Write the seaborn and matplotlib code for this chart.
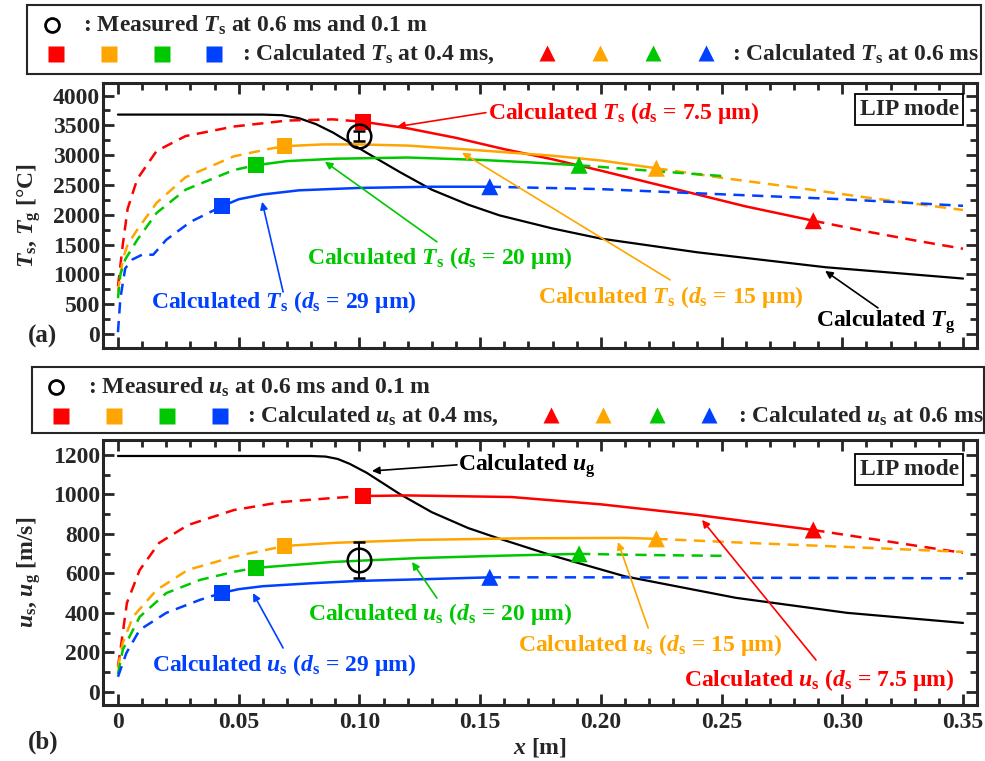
import seaborn as sns
import matplotlib.pyplot as plt
from matplotlib.ticker import MultipleLocator

# ---- data ----
# x positions [m] of the particles at 0.4 ms (squares) and 0.6 ms (triangles)
# order: d_s = 7.5, 15, 20, 29 um
sq_x = [0.1015, 0.069, 0.057, 0.043]
tri_x = [0.288, 0.223, 0.191, 0.154]

# panel (a): temperatures [degC]
ts_x_75 = [0, 0.002, 0.004, 0.008, 0.016, 0.028, 0.048, 0.07, 0.089, 0.1015, 0.12, 0.14,
           0.16, 0.18, 0.2, 0.22, 0.24, 0.26, 0.288, 0.31, 0.33, 0.35]
ts_75 = [800, 1500, 2100, 2600, 3070, 3320, 3480, 3580, 3600, 3560, 3450, 3290,
         3100, 2930, 2740, 2540, 2340, 2140, 1900, 1720, 1570, 1430]
ts_x_15 = [0, 0.002, 0.004, 0.008, 0.016, 0.028, 0.048, 0.062, 0.069, 0.085, 0.1, 0.12,
           0.15, 0.18, 0.2, 0.223, 0.25, 0.28, 0.31, 0.35]
ts_15 = [700, 1250, 1500, 1750, 2200, 2630, 2980, 3100, 3150, 3180, 3180, 3160,
         3080, 2990, 2910, 2780, 2620, 2460, 2290, 2080]
ts_x_20 = [0, 0.001, 0.003, 0.008, 0.016, 0.028, 0.048, 0.057, 0.07, 0.09, 0.12, 0.15,
           0.17, 0.191, 0.22, 0.25]
ts_20 = [600, 1000, 1250, 1580, 2030, 2420, 2750, 2830, 2900, 2940, 2960, 2920,
         2880, 2830, 2740, 2650]
ts_x_29 = [0, 0.001, 0.003, 0.006, 0.01, 0.0146, 0.02, 0.03, 0.043, 0.05, 0.06, 0.075,
           0.1, 0.13, 0.154, 0.2, 0.234, 0.3, 0.35]
ts_29 = [30, 600, 1100, 1250, 1330, 1330, 1580, 1880, 2140, 2260, 2340, 2410,
         2450, 2470, 2470, 2430, 2370, 2260, 2150]
tg_x = [0, 0.06, 0.068, 0.075, 0.082, 0.089, 0.103, 0.117, 0.13, 0.145, 0.158, 0.18,
        0.2, 0.24, 0.293, 0.35]
tg = [3680, 3680, 3670, 3620, 3520, 3380, 3040, 2710, 2420, 2170, 1990, 1770,
      1600, 1370, 1120, 930]

# panel (b): velocities [m/s]
us_x_75 = [0, 0.001, 0.0037, 0.009, 0.017, 0.029, 0.048, 0.068, 0.089, 0.1015, 0.12,
           0.163, 0.2, 0.24, 0.288, 0.32, 0.35]
us_75 = [130, 211, 450, 617, 754, 845, 921, 962, 982, 992, 995, 987, 950, 896, 820, 760, 704]
us_x_15 = [0, 0.002, 0.0062, 0.016, 0.029, 0.048, 0.069, 0.09, 0.125, 0.17, 0.21, 0.223,
           0.26, 0.3, 0.35]
us_15 = [120, 248, 380, 516, 618, 684, 739, 755, 770, 778, 780, 775, 755, 735, 709]
us_x_20 = [0, 0.002, 0.009, 0.02, 0.034, 0.048, 0.057, 0.089, 0.125, 0.16, 0.191, 0.22, 0.25]
us_20 = [90, 213, 380, 500, 567, 608, 628, 658, 678, 690, 699, 693, 689]
us_x_29 = [0, 0.0035, 0.009, 0.02, 0.034, 0.043, 0.05, 0.06, 0.08, 0.1, 0.125, 0.154,
           0.2, 0.25, 0.3, 0.35]
us_29 = [76, 197, 314, 400, 466, 501, 520, 535, 550, 562, 570, 580, 580, 578, 577, 575]
ug_x = [0, 0.08, 0.086, 0.091, 0.096, 0.103, 0.117, 0.13, 0.145, 0.157, 0.18, 0.21,
        0.256, 0.302, 0.35]
ug = [1195, 1195, 1192, 1180, 1155, 1110, 1000, 910, 830, 780, 690, 585, 476, 400, 349]

# measurement at 0.6 ms and 0.1 m
meas_x = [0.1]
meas_ts = [3320]
meas_ts_err = [90]
meas_us = [668]
meas_us_err = [92]

xticks = [0, 0.05, 0.10, 0.15, 0.20, 0.25, 0.30, 0.35]
xtick_labels = ['0', '0.05', '0.10', '0.15', '0.20', '0.25', '0.30', '0.35']
ts_ticks = [0, 500, 1000, 1500, 2000, 2500, 3000, 3500, 4000]
us_ticks = [0, 200, 400, 600, 800, 1000, 1200]

colors = ['#FF0000', '#FFA500', '#00C800', '#0040FF']

# ---- style ----
sns.set_style('ticks')
plt.rcParams['font.family'] = ['Liberation Serif', 'DejaVu Serif']
plt.rcParams['font.weight'] = 'bold'
plt.rcParams['axes.labelweight'] = 'bold'
plt.rcParams['mathtext.fontset'] = 'custom'
plt.rcParams['mathtext.rm'] = 'Liberation Serif:bold'
plt.rcParams['mathtext.it'] = 'Liberation Serif:italic:bold'
plt.rcParams['mathtext.bf'] = 'Liberation Serif:bold'
FS = 17
DASH = (0, (4.5, 3))

W, H = 985, 761
fig = plt.figure(figsize=(W / 100, H / 100), dpi=100)
ax1 = fig.add_axes([103 / W, 1 - 348 / H, 874 / W, 265 / H])
ax2 = fig.add_axes([103 / W, 1 - 705 / H, 874 / W, 265 / H])


def draw_particle(ax, xs, ys, c, x_sq, x_tri):
    pre = [(a, b) for a, b in zip(xs, ys) if a <= x_sq]
    mid = [(a, b) for a, b in zip(xs, ys) if x_sq <= a <= x_tri]
    post = [(a, b) for a, b in zip(xs, ys) if a >= x_tri]
    for seg, ls in [(pre, DASH), (mid, '-'), (post, DASH)]:
        sx, sy = zip(*seg)
        sns.lineplot(x=list(sx), y=list(sy), ax=ax, color=c, lw=1.8, linestyle=ls,
                     estimator=None, sort=False, zorder=3)
    y_sq = ys[xs.index(x_sq)]
    y_tri = ys[xs.index(x_tri)]
    sns.scatterplot(x=[x_sq], y=[y_sq], ax=ax, marker='s', s=130, color=c,
                    edgecolor='none', zorder=5)
    sns.scatterplot(x=[x_tri], y=[y_tri], ax=ax, marker='^', s=150, color=c,
                    edgecolor='none', zorder=5)


def style_axes(ax, ylim, yticks, yminor):
    ax.set_xlim(-0.0062, 0.3558)
    ax.set_ylim(*ylim)
    ax.set_xticks(xticks)
    ax.xaxis.set_minor_locator(MultipleLocator(0.01))
    ax.set_yticks(yticks)
    ax.yaxis.set_minor_locator(MultipleLocator(yminor))
    ax.tick_params(which='both', direction='in', top=True, right=True, width=2,
                   labelsize=FS)
    ax.tick_params(which='major', length=8)
    ax.tick_params(which='minor', length=5)
    ax.tick_params(axis='y', pad=2)
    ax.tick_params(axis='x', pad=5)
    for s in ax.spines.values():
        s.set_linewidth(2.2)


# ---- panel (a) ----
ts_x_all = [ts_x_75, ts_x_15, ts_x_20, ts_x_29]
ts_all = [ts_75, ts_15, ts_20, ts_29]
for i in range(4):
    draw_particle(ax1, ts_x_all[i], ts_all[i], colors[i], sq_x[i], tri_x[i])
sns.lineplot(x=tg_x, y=tg, ax=ax1, color='black', lw=1.6, estimator=None, sort=False, zorder=2)
ax1.errorbar(meas_x, meas_ts, yerr=meas_ts_err, fmt='o', mfc='none', mec='black', ms=17,
             mew=1.8, ecolor='black', elinewidth=1.4, capsize=4, capthick=1.4, zorder=6)
style_axes(ax1, (-235, 4210), ts_ticks, 250)
ax1.set_xticklabels([])
ax1.set_ylabel(r'$T_\mathrm{s}$, $T_\mathrm{g}$ [°C]', fontsize=FS)
ax1.yaxis.set_label_coords(-0.069, 0.5)

arr = dict(arrowstyle='-|>', lw=1.2, mutation_scale=11, shrinkA=0, shrinkB=0)
ann_a = [
    (r'Calculated $T_\mathrm{s}$ ($d_\mathrm{s}$ = 7.5 μm)', colors[0], (0.1533, 3713), 'left',
     (0.1524, 3713), (0.1156, 3478)),
    (r'Calculated $T_\mathrm{s}$ ($d_\mathrm{s}$ = 20 μm)', colors[2], (0.1334, 1277), 'center',
     (0.1321, 1546), (0.0857, 2890)),
    (r'Calculated $T_\mathrm{s}$ ($d_\mathrm{s}$ = 29 μm)', colors[3], (0.0688, 538), 'center',
     (0.0684, 706), (0.0597, 2218)),
    (r'Calculated $T_\mathrm{s}$ ($d_\mathrm{s}$ = 15 μm)', colors[1], (0.229, 622), 'center',
     (0.2287, 907), (0.1425, 3041)),
    (r'Calculated $T_\mathrm{g}$', 'black', (0.318, 202), 'center',
     (0.3148, 437), (0.2929, 1058)),
]
for txt, c, pos, ha, tail, tip in ann_a:
    ax1.text(pos[0], pos[1], txt, color=c, fontsize=FS, ha=ha, va='center')
    ax1.annotate('', xy=tip, xytext=tail, arrowprops=dict(arr, color=c))
ax1.text(0.3277, 3763, 'LIP mode', fontsize=FS, ha='center', va='center',
         bbox=dict(boxstyle='square,pad=0.2', fc='white', ec='black', lw=1.3), zorder=7)

# ---- panel (b) ----
us_x_all = [us_x_75, us_x_15, us_x_20, us_x_29]
us_all = [us_75, us_15, us_20, us_29]
for i in range(4):
    draw_particle(ax2, us_x_all[i], us_all[i], colors[i], sq_x[i], tri_x[i])
sns.lineplot(x=ug_x, y=ug, ax=ax2, color='black', lw=1.6, estimator=None, sort=False, zorder=2)
ax2.errorbar(meas_x, meas_us, yerr=meas_us_err, fmt='o', mfc='none', mec='black', ms=17,
             mew=1.8, ecolor='black', elinewidth=1.4, capsize=4, capthick=1.4, zorder=6)
style_axes(ax2, (-67, 1276), us_ticks, 100)
ax2.set_xticklabels(xtick_labels)
ax2.set_ylabel(r'$u_\mathrm{s}$, $u_\mathrm{g}$ [m/s]', fontsize=FS)
ax2.yaxis.set_label_coords(-0.069, 0.5)
ax2.set_xlabel(r'$x$ [m]', fontsize=FS)
ax2.xaxis.set_label_coords(0.5, -0.118)

ann_b = [
    (r'Calculated $u_\mathrm{g}$', 'black', (0.1408, 1144), 'left',
     (0.1404, 1150), (0.1052, 1119)),
    (r'Calculated $u_\mathrm{s}$ ($d_\mathrm{s}$ = 20 μm)', colors[2], (0.1334, 394), 'center',
     (0.1321, 475), (0.1218, 658)),
    (r'Calculated $u_\mathrm{s}$ ($d_\mathrm{s}$ = 29 μm)', colors[3], (0.0688, 135), 'center',
     (0.0684, 222), (0.0559, 500)),
    (r'Calculated $u_\mathrm{s}$ ($d_\mathrm{s}$ = 15 μm)', colors[1], (0.2204, 237), 'center',
     (0.2196, 323), (0.2071, 759)),
    (r'Calculated $u_\mathrm{s}$ ($d_\mathrm{s}$ = 7.5 μm)', colors[0], (0.2904, 59), 'center',
     (0.2891, 161), (0.2419, 871)),
]
for txt, c, pos, ha, tail, tip in ann_b:
    ax2.text(pos[0], pos[1], txt, color=c, fontsize=FS, ha=ha, va='center')
    ax2.annotate('', xy=tip, xytext=tail, arrowprops=dict(arr, color=c))
ax2.text(0.3277, 1126, 'LIP mode', fontsize=FS, ha='center', va='center',
         bbox=dict(boxstyle='square,pad=0.2', fc='white', ec='black', lw=1.3), zorder=7)

fig.text(28 / W, 1 - 336 / H, '(a)', fontsize=FS + 1, va='center', ha='left')
fig.text(28 / W, 1 - 742 / H, '(b)', fontsize=FS + 1, va='center', ha='left')


# ---- legend boxes (pixel layout) ----
def legend_box(x0, y0, x1, y1, circ_x, sq_px, tri_px, text_x, sym):
    lax = fig.add_axes([x0 / W, 1 - y1 / H, (x1 - x0) / W, (y1 - y0) / H])
    lax.set_xlim(x0, x1)
    lax.set_ylim(y1, y0)
    lax.set_xticks([])
    lax.set_yticks([])
    for s in lax.spines.values():
        s.set_linewidth(1.5)
    r1 = y0 + 20
    r2 = y0 + 49
    lax.plot(circ_x, r1, 'o', mfc='none', mec='black', ms=10, mew=2)
    lax.text(text_x[0], r1, r': Measured $%s_\mathrm{s}$ at 0.6 ms and 0.1 m' % sym,
             fontsize=FS, va='center')
    for px, c in zip(sq_px, colors):
        lax.plot(px, r2, 's', color=c, ms=11, mec='none')
    for px, c in zip(tri_px, colors):
        lax.plot(px, r2 - 1, '^', color=c, ms=12, mec='none')
    lax.text(text_x[1], r2, r': Calculated $%s_\mathrm{s}$ at 0.4 ms,' % sym,
             fontsize=FS, va='center')
    lax.text(text_x[2], r2, r': Calculated $%s_\mathrm{s}$ at 0.6 ms' % sym,
             fontsize=FS, va='center')


legend_box(27, 5, 981, 74, 52, [56, 109, 162, 214], [547, 600, 653, 706],
           [83, 242, 732], 'T')
legend_box(32, 367, 984, 433, 56, [61, 114, 167, 220], [551, 603, 657, 709],
           [88, 247, 738], 'u')

fig.savefig('out.png', dpi=100)
